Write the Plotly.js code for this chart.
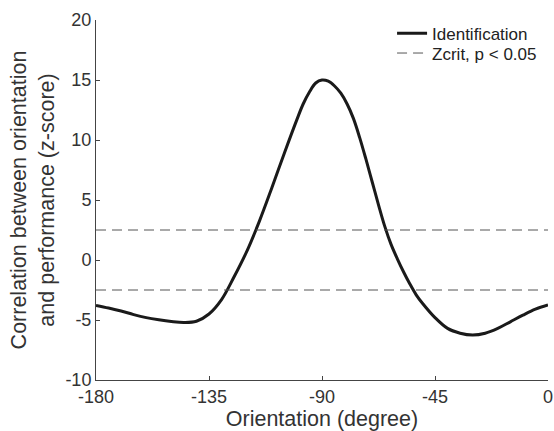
<!DOCTYPE html>
<html>
<head>
<meta charset="utf-8">
<script src="https://cdn.plot.ly/plotly-3.0.1.min.js"></script>
<style>html,body{margin:0;padding:0;background:#fff;}#chart{width:554px;height:431px;}</style>
</head>
<body>
<div id="chart"></div>
<script>
const orientation = [-180,-175,-170,-165,-160,-155,-150,-145,-140,-135,-130,-125,-120,-115,-110,-105,-100,-97.5,-95,-92.5,-90,-87.5,-85,-82.5,-80,-77.5,-75,-72.5,-70,-67.5,-65,-62.5,-60,-57.5,-55,-52.5,-50,-45,-40,-35,-30,-25,-20,-15,-10,-5,0];
const identification = [-3.78,-4.0,-4.25,-4.55,-4.8,-4.98,-5.12,-5.2,-5.1,-4.5,-3.3,-1.4,0.7,3.2,6.0,8.9,11.7,13.0,14.0,14.75,15.0,14.9,14.5,13.9,13.0,11.8,10.2,8.4,6.5,4.6,2.8,1.3,0.1,-1.0,-2.0,-2.9,-3.6,-4.8,-5.7,-6.1,-6.25,-6.1,-5.7,-5.15,-4.6,-4.1,-3.75];
const zcrit = 2.5;
const xTicks = [-180,-135,-90,-45,0];
const yTicks = [-10,-5,0,5,10,15,20];

const font = "Liberation Sans, Arial, Helvetica, sans-serif";
const traces = [
  {
    x: orientation, y: identification, type: 'scatter', mode: 'lines',
    name: 'Identification', legend: 'legend',
    line: {color: '#1a1a1a', width: 3, shape: 'spline', smoothing: 1}
  },
  {
    x: [xTicks[0], xTicks[xTicks.length-1], null, xTicks[0], xTicks[xTicks.length-1]],
    y: [zcrit, zcrit, null, -zcrit, -zcrit],
    type: 'scatter', mode: 'lines', name: 'Zcrit, p < 0.05', legend: 'legend2',
    connectgaps: false,
    line: {color: '#555555', width: 1, dash: '10px,6px'}
  }
];
const legendStyle = {xanchor: 'left', yanchor: 'top', bgcolor: 'rgba(0,0,0,0)',
  font: {family: font, size: 17, color: '#222'}, tracegroupgap: 0, itemwidth: 30};
const layout = {
  width: 554, height: 431,
  margin: {l: 96, r: 6, t: 20, b: 51},
  paper_bgcolor: '#fff', plot_bgcolor: '#fff',
  font: {family: font, size: 18, color: '#333'},
  showlegend: true,
  legend: Object.assign({x: 0.655, y: 1.012}, legendStyle),
  legend2: Object.assign({x: 0.655, y: 0.957}, legendStyle),
  xaxis: {
    range: [-180, 0], tickvals: xTicks, ticktext: xTicks.map(String),
    showgrid: false, zeroline: false, showline: true, linecolor: '#444', linewidth: 1,
    ticks: 'inside', ticklen: 4, tickcolor: '#444', mirror: false,
    tickfont: {family: font, size: 18, color: '#333'},
    title: {text: 'Orientation (degree)', font: {family: font, size: 21.5, color: '#333'}, standoff: 0}
  },
  yaxis: {
    range: [-10, 20], tickvals: yTicks, ticktext: yTicks.map(String),
    showgrid: false, zeroline: false, showline: true, linecolor: '#444', linewidth: 1,
    ticks: 'inside', ticklen: 4, tickcolor: '#444',
    tickfont: {family: font, size: 18, color: '#333'},
    title: {text: 'Correlation between orientation<br>and performance (z-score)', font: {family: font, size: 21.5, color: '#333'}, standoff: 4}
  }
};
Plotly.newPlot('chart', traces, layout, {staticPlot: true, displayModeBar: false});
</script>
</body>
</html>
